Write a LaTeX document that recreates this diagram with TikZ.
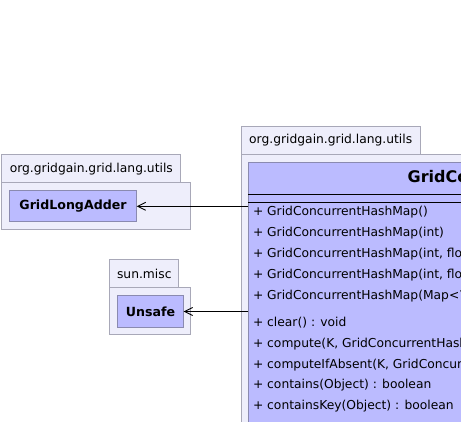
\documentclass[tikz,border=0pt]{standalone}
\usepackage{fontspec}
\setmainfont{DejaVu Sans}
\usetikzlibrary{arrows.meta}
\definecolor{pkgfill}{HTML}{EEEEFB}
\definecolor{pkgdraw}{HTML}{A8A8B8}
\definecolor{clsfill}{HTML}{BBBBFF}
\definecolor{clsdraw}{HTML}{8A8AB0}
\begin{document}
\begin{tikzpicture}[x=1pt,y=-1pt,
  pkg/.style={draw=pkgdraw, fill=pkgfill, line width=1pt, anchor=north west, inner sep=0pt,
    font=\fontsize{12.3}{14}\selectfont},
  cls/.style={draw=clsdraw, fill=clsfill, line width=1pt, anchor=north west, inner sep=0pt,
    font=\bfseries\fontsize{12.6}{15}\selectfont},
  member/.style={anchor=west, inner sep=0pt, font=\fontsize{12.3}{14}\selectfont},
  dep/.style={line width=0.9pt, -{Straight Barb[length=8pt,width=8pt,line width=0.9pt]}}]
\useasboundingbox (0,0) rectangle (461,421);
\clip (0,0) rectangle (461,421);
% package org.gridgain.grid.lang.utils (left)
\node[pkg, minimum width=189pt, minimum height=47.3pt] (b1) at (1.3,182) {};
\node[pkg, minimum width=179pt, minimum height=28pt] (t1) at (1.3,154.3) {org.gridgain.grid.lang.utils};
\node[cls, minimum width=126.4pt, minimum height=31pt] (lga) at (9.3,190.3) {GridLongAdder};
% package sun.misc
\node[pkg, minimum width=81pt, minimum height=46.7pt] (b2) at (109.3,287.3) {};
\node[pkg, minimum width=69pt, minimum height=28pt] (t2) at (109.3,259.3) {sun.misc};
\node[cls, minimum width=65.4pt, minimum height=31.4pt] (uns) at (117.3,295.3) {Unsafe};
% package org.gridgain.grid.lang.utils (main)
\node[pkg, minimum width=300pt, minimum height=400pt] (b3) at (240.7,154) {};
\node[pkg, minimum width=179pt, minimum height=28pt] (t3) at (240.7,126) {org.gridgain.grid.lang.utils};
\node[cls, minimum width=400pt, minimum height=400pt] (main) at (248.3,162.3) {};
\node[anchor=west, inner sep=0pt, font=\bfseries\fontsize{16}{19}\selectfont] (title) at (407.5,178) {GridConcurrentHashMap};
\draw[line width=1pt] (main.west |- 0,194) -- (main.east |- 0,194);
\draw[line width=1pt] (main.west |- 0,202.5) -- (main.east |- 0,202.5);
\node[member] (m1) at (252.8,211.7) {+ GridConcurrentHashMap()};
\node[member] (m2) at (252.8,232.7) {+ GridConcurrentHashMap(int)};
\node[member] (m3) at (252.8,254) {+ GridConcurrentHashMap(int, float)};
\node[member] (m4) at (252.8,275) {+ GridConcurrentHashMap(int, float, int)};
\node[member] (m5) at (252.8,295.7) {+ GridConcurrentHashMap(Map<? extends K, ? extends V>)};
\node[member] (m6) at (252.8,322.3) {+ clear() : void};
\node[member] (m7) at (252.8,344) {+ compute(K, GridConcurrentHashMap.Closure) : V};
\node[member] (m8) at (252.8,365.5) {+ computeIfAbsent(K, GridConcurrentHashMap.Closure) : V};
\node[member] (m9) at (252.8,385.5) {+ contains(Object) : boolean};
\node[member] (m10) at (252.8,405.7) {+ containsKey(Object) : boolean};
% dependencies
\draw[dep] (main.west |- lga.east) -- (lga.east);
\draw[dep] (main.west |- uns.east) -- (uns.east);
\end{tikzpicture}
\end{document}
